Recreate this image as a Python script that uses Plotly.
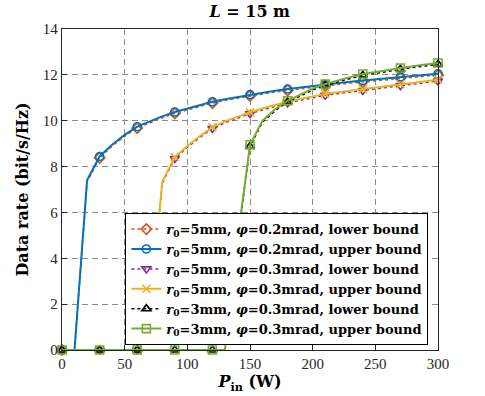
import plotly.graph_objects as go

# input power (W), sampled every 10 W; markers every 30 W
p_in = list(range(0, 301, 10))

# r0=5mm, phi=0.2mrad
rate_a_upper = [0, 0, 7.40, 8.44, 8.95, 9.38, 9.74, 9.98, 10.19, 10.38, 10.54,
                10.69, 10.83, 10.94, 11.04, 11.14, 11.23, 11.31, 11.38, 11.45, 11.52,
                11.58, 11.64, 11.70, 11.75, 11.80, 11.86, 11.91, 11.96, 12.00, 12.05]
rate_a_lower = [0, 0, 7.33, 8.38, 8.89, 9.32, 9.68, 9.92, 10.13, 10.32, 10.48,
                10.63, 10.77, 10.88, 10.98, 11.08, 11.17, 11.25, 11.32, 11.39, 11.46,
                11.52, 11.58, 11.64, 11.69, 11.74, 11.80, 11.85, 11.90, 11.94, 11.99]

# r0=5mm, phi=0.3mrad
rate_b_upper = [0, 0, 0, 0, 0, 0, 0, 1.40, 7.35, 8.41, 8.90,
                9.33, 9.72, 9.97, 10.18, 10.37, 10.53, 10.69, 10.84, 10.95, 11.06,
                11.17, 11.24, 11.31, 11.38, 11.45, 11.52, 11.59, 11.66, 11.72, 11.79]
rate_b_lower = [0, 0, 0, 0, 0, 0, 0, 1.30, 7.28, 8.35, 8.84,
                9.27, 9.66, 9.91, 10.12, 10.31, 10.47, 10.63, 10.78, 10.89, 11.00,
                11.11, 11.18, 11.25, 11.32, 11.39, 11.46, 11.53, 11.60, 11.66, 11.73]

# r0=3mm, phi=0.3mrad
rate_c_upper = [0, 0, 0, 0, 0, 0, 0, 0, 0, 0, 0,
                0, 0, 0, 4.80, 8.95, 10.00, 10.50, 10.87, 11.15, 11.40,
                11.60, 11.76, 11.90, 12.04, 12.13, 12.22, 12.30, 12.38, 12.45, 12.52]
rate_c_lower = [0, 0, 0, 0, 0, 0, 0, 0, 0, 0, 0,
                0, 0, 0, 4.70, 8.88, 9.94, 10.44, 10.81, 11.09, 11.34,
                11.54, 11.70, 11.84, 11.98, 12.07, 12.16, 12.24, 12.32, 12.39, 12.46]

legend_names = [
    "<b><i>r</i><sub>0</sub>=5mm, <i>φ</i>=0.2mrad, lower bound</b>",
    "<b><i>r</i><sub>0</sub>=5mm, <i>φ</i>=0.2mrad, upper bound</b>",
    "<b><i>r</i><sub>0</sub>=5mm, <i>φ</i>=0.3mrad, lower bound</b>",
    "<b><i>r</i><sub>0</sub>=5mm, <i>φ</i>=0.3mrad, upper bound</b>",
    "<b><i>r</i><sub>0</sub>=3mm, <i>φ</i>=0.3mrad, lower bound</b>",
    "<b><i>r</i><sub>0</sub>=3mm, <i>φ</i>=0.3mrad, upper bound</b>",
]

series = [
    (rate_a_lower, "#D95319", "dot", "diamond-open"),
    (rate_a_upper, "#0072BD", "solid", "circle-open"),
    (rate_b_lower, "#7E2F8E", "dot", "triangle-down-open"),
    (rate_b_upper, "#EDB120", "solid", "x-thin-open"),
    (rate_c_lower, "#000000", "dot", "triangle-up-open"),
    (rate_c_upper, "#77AC30", "solid", "square-open"),
]

fig = go.Figure()

for name, (vals, color, dash, symbol) in zip(legend_names, series):
    lw = 1.5 if dash == "dot" else 2
    marker = dict(symbol=symbol, size=8, color=color, line=dict(color=color, width=1.6))
    # full curve
    fig.add_trace(go.Scatter(x=p_in, y=vals, mode="lines", showlegend=False,
                             line=dict(color=color, width=lw, dash=dash), hoverinfo="skip"))
    # markers every 30 W
    fig.add_trace(go.Scatter(x=p_in[::3], y=vals[::3], mode="markers", showlegend=False,
                             marker=marker, cliponaxis=False))
    # legend entry
    fig.add_trace(go.Scatter(x=[None], y=[None], mode="lines+markers", name=name,
                             line=dict(color=color, width=lw, dash=dash), marker=marker))

axis_style = dict(
    showline=True, mirror=True, linecolor="#262626", linewidth=1.3,
    ticks="inside", ticklen=5, tickcolor="#262626", automargin=False,
    showgrid=True, gridcolor="#8c8c8c", gridwidth=1, griddash="6px,4px",
    zeroline=False, tickfont=dict(family="Liberation Serif", size=15, color="#262626"),
)

fig.update_layout(
    width=485, height=396,
    margin=dict(l=62, r=47, t=29, b=46, autoexpand=False),
    plot_bgcolor="white", paper_bgcolor="white",
    font=dict(family="DejaVu Serif", color="#000000"),
    title=dict(text="<b><i>L</i> = 15 m</b>", x=0.515, xanchor="center",
               y=0.97, yanchor="middle", font=dict(size=16)),
    xaxis=dict(range=[0, 300], dtick=50,
               title=dict(text="<b><i>P</i><sub>in</sub> (W)</b>", font=dict(size=16), standoff=4),
               **axis_style),
    yaxis=dict(range=[0, 14], dtick=2,
               title=dict(text="<b>Data rate (bit/s/Hz)</b>", font=dict(size=16), standoff=10),
               **axis_style),
    legend=dict(x=0.168, y=0.427, xanchor="left", yanchor="top",
                bgcolor="white", bordercolor="#000000", borderwidth=1.2,
                font=dict(family="DejaVu Serif", size=13), tracegroupgap=0),
)

# drop the browser's default page margin so the figure sits at the window origin
fig.write_html("out.html", config={"displayModeBar": False},
               post_script="document.body.style.margin = '0px';")
